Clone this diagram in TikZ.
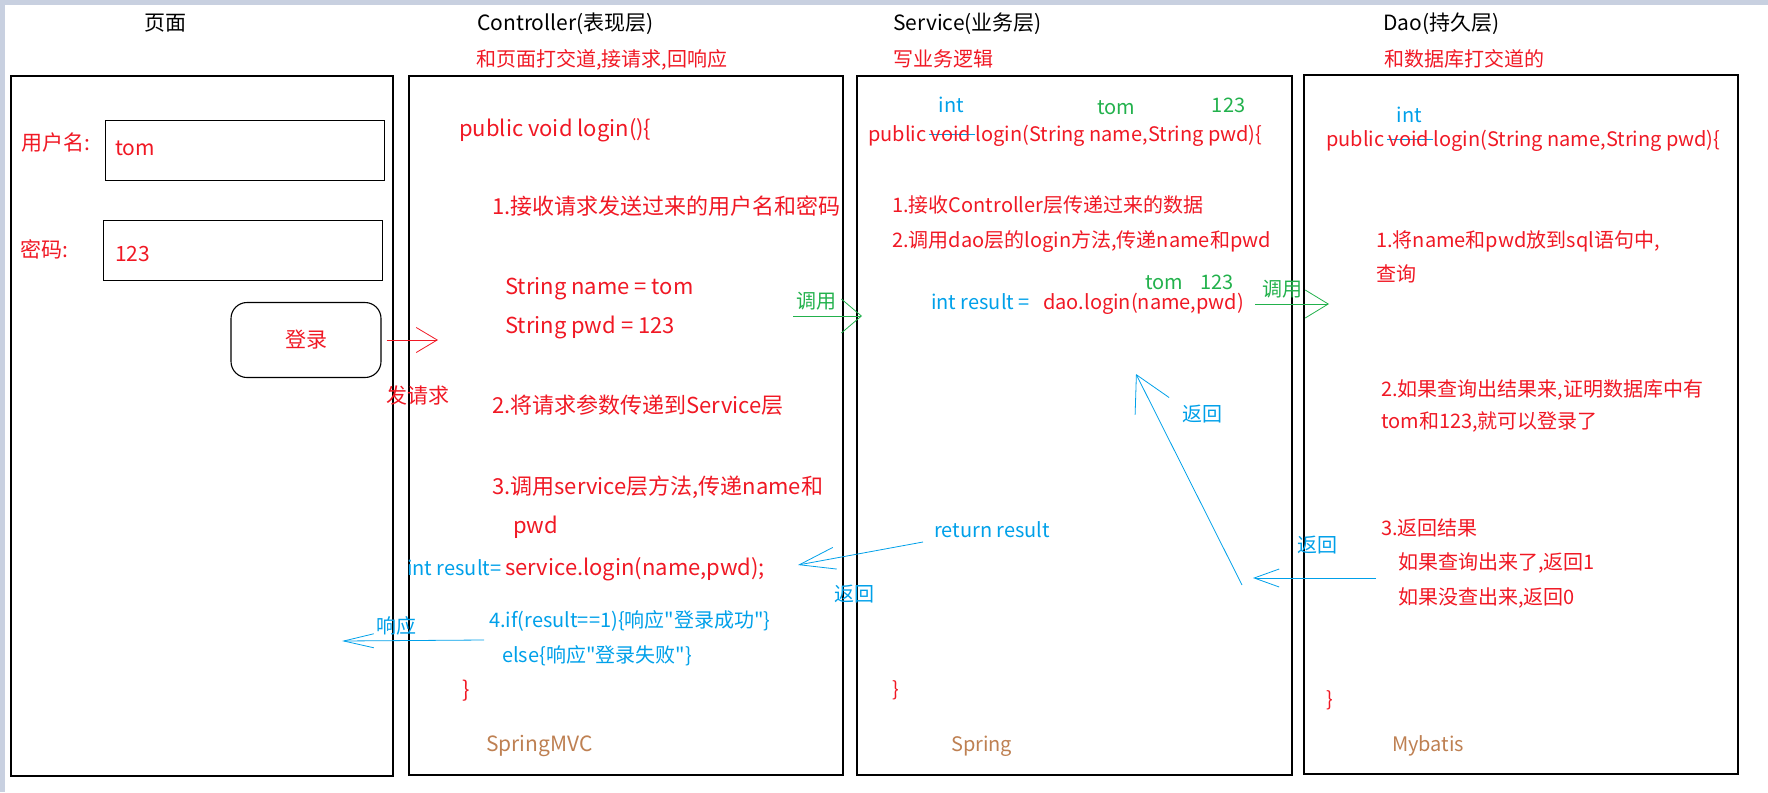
\documentclass[tikz,border=0pt]{standalone}
\usepackage{fontspec}
\setmainfont{Noto Sans CJK SC}[Ligatures=TeXOff]
\usetikzlibrary{arrows.meta}

\definecolor{codered}{RGB}{240,24,36}
\definecolor{codeblue}{RGB}{0,160,233}
\definecolor{codegreen}{RGB}{34,177,76}
\definecolor{codebrown}{RGB}{190,128,82}
\definecolor{framegray}{RGB}{200,208,224}

\newcommand\fs[1]{\fontsize{#1}{#1}\selectfont}
\newsavebox\strikebox
\newsavebox\tagbox
% word struck through in blue
\newcommand\struck[1]{\sbox\strikebox{#1}\rlap{\hspace{-2pt}\textcolor{codeblue}{\rule[0.33em]{\dimexpr\wd\strikebox+6pt\relax}{0.9pt}}}\usebox\strikebox}
% small value written above a word: raise, colour, value, word
\newcommand\tagover[4]{\sbox\tagbox{#4}\rlap{\makebox[\wd\tagbox]{\raisebox{#1}[0pt][0pt]{\textcolor{#2}{#3}}}}\usebox\tagbox}

\tikzset{
  panel/.style={draw, line width=1.3pt},
  field/.style={draw, line width=1.1pt, anchor=north west, inner sep=0pt},
  txt/.style={anchor=west, inner sep=0pt, text height=0.85em, text depth=0.15em, font=\fs{20}},
  title/.style={txt, font=\fs{21}},
  note/.style={txt, text=codered},
  bignote/.style={note, font=\fs{22}},
  ret/.style={txt, text=codeblue},
  call/.style={txt, text=codegreen},
  fw/.style={txt, text=codebrown},
  reqarrow/.style={draw=codered, line width=0.8pt, -{Straight Barb[length=21pt, width=25pt]}},
  callarrow/.style 2 args={draw=codegreen, line width=0.8pt, -{Straight Barb[length=#1, width=#2]}},
  retarrow/.style 2 args={draw=codeblue, line width=0.8pt, -{Straight Barb[length=#1, width=#2]}},
}

\begin{document}
\begin{tikzpicture}[x=1pt, y=-1pt]
  \useasboundingbox (0,0) rectangle (1768,792);
  % window edge
  \fill[framegray] (0,0) rectangle (1768,5);
  \fill[framegray] (0,0) rectangle (5,792);

  % panels
  \draw[panel] (11,76) rectangle (393,776);
  \draw[panel] (409,76) rectangle (843,775);
  \draw[panel] (857,76) rectangle (1292,775);
  \draw[panel] (1304,75) rectangle (1738,774);

  % titles
  \node[title] (pagetitle) at (144,27) {页面};
  \node[title] (ctrltitle) at (477,27) {Controller(表现层)};
  \node[title] (srvtitle) at (893,27) {Service(业务层)};
  \node[title] (daotitle) at (1383,27) {Dao(持久层)};
  \node[note] (ctrlsub) at (476,63) {和页面打交道,接请求,回响应};
  \node[note] (srvsub) at (893,63) {写业务逻辑};
  \node[note] (daosub) at (1384,63) {和数据库打交道的};

  % page
  \node[note, font=\fs{21}] (userlbl) at (21,147) {用户名:};
  \node[field, minimum width=279, minimum height=60] (userbox) at (105,120) {};
  \node[note, font=\fs{21}] (userval) at (115,152) {tom};
  \node[note, font=\fs{21}] (pwdlbl) at (20,254) {密码:};
  \node[field, minimum width=279, minimum height=60] (pwdbox) at (103,220) {};
  \node[note, font=\fs{21}] (pwdval) at (115,258) {123};
  \node[draw, line width=1.1pt, rounded corners=16pt, minimum width=150, minimum height=75,
        text=codered, font=\fs{21}] (loginbtn) at (306,340) {登录};
  \coordinate (reqtip) at (438,340);
  \draw[reqarrow] ([xshift=5pt]loginbtn.east) -- (reqtip);
  \node[note, font=\fs{21}] (reqlbl) at (386,400) {发请求};

  % controller
  \node[bignote] (csig) at (459,133) {public void login()\{};
  \node[bignote] (cstep1) at (492,211) {1.接收请求发送过来的用户名和密码};
  \node[bignote] (cname) at (505,291) {String name = tom};
  \node[bignote] (cpwd) at (505,330) {String pwd = 123};
  \node[bignote] (cstep2) at (492,410) {2.将请求参数传递到Service层};
  \node[bignote] (cstep3) at (492,491) {3.调用service层方法,传递name和};
  \node[bignote] (cstep3b) at (513,530) {pwd};
  \node[ret] (cresult) at (407,572) {int result=};
  \node[bignote] (ccall) at (505,572) {service.login(name,pwd);};
  \node[ret] (cstep4) at (489,624) {4.if(result==1)\{响应"登录成功"\}};
  \node[ret] (celse) at (502,659) {else\{响应"登录失败"\}};
  \node[bignote] (cend) at (462,694) {\}};
  \node[fw, font=\fs{21}] (cfw) at (486,748) {SpringMVC};
  \coordinate (respstart) at (484,640);
  \coordinate (resptip) at (342,641);
  \draw[retarrow={30pt}{14pt}] (respstart) -- (resptip);
  \node[ret] (resplbl) at (376,630) {响应};
  \coordinate (call1start) at (793,316);
  \coordinate (call1tip) at (862,316);
  \draw[callarrow={20pt}{34pt}] (call1start) -- (call1tip);
  \node[call] (call1lbl) at (796,305) {调用};

  % service
  \node[note] (ssig) at (868,138) {public \tagover{29pt}{codeblue}{int}{\struck{void}} login(String \tagover{27pt}{codegreen}{tom}{name},String \tagover{29pt}{codegreen}{123}{pwd})\{};
  \node[note] (sstep1) at (892,209) {1.接收Controller层传递过来的数据};
  \node[note] (sstep2) at (892,244) {2.调用dao层的login方法,传递name和pwd};
  \node[ret] (sresult) at (931,306) {int result =};
  \node[note] (scall) at (1043,306) {dao.login(\tagover{20pt}{codegreen}{tom}{name},\tagover{20pt}{codegreen}{123}{pwd})};
  \node[ret] (sreturn) at (934,534) {return result};
  \node[note] (send) at (892,693) {\}};
  \node[fw] (sfw) at (951,748) {Spring};
  \coordinate (call2start) at (1255,304);
  \coordinate (call2tip) at (1329,304);
  \draw[callarrow={23pt}{28pt}] (call2start) -- (call2tip);
  \node[call] (call2lbl) at (1262,293) {调用};
  \coordinate (backstart) at (1242,585);
  \coordinate (backtip) at (1136,374);
  \draw[retarrow={35pt}{38pt}] (backstart) -- (backtip);
  \node[ret] (backlbl) at (1182,418) {返回};
  \coordinate (rretstart) at (923,542);
  \coordinate (rrettip) at (798,565);
  \draw[retarrow={36pt}{22pt}] (rretstart) -- (rrettip);
  \node[ret] (rretlbl) at (834,598) {返回};

  % dao
  \node[note] (dsig) at (1326,143) {public \tagover{24pt}{codeblue}{int}{\struck{void}} login(String name,String pwd)\{};
  \node[note] (dstep1) at (1376,244) {1.将name和pwd放到sql语句中,};
  \node[note] (dstep1b) at (1376,278) {查询};
  \node[note] (dstep2) at (1381,393) {2.如果查询出结果来,证明数据库中有};
  \node[note] (dstep2b) at (1381,425) {tom和123,就可以登录了};
  \node[note] (dstep3) at (1381,532) {3.返回结果};
  \node[note] (dstep3a) at (1398,566) {如果查询出来了,返回1};
  \node[note] (dstep3b) at (1398,601) {如果没查出来,返回0};
  \node[note] (dend) at (1326,703) {\}};
  \node[fw] (dfw) at (1392,748) {Mybatis};
  \coordinate (dretstart) at (1376,578);
  \coordinate (drettip) at (1253,578);
  \draw[retarrow={25pt}{18pt}] (dretstart) -- (drettip);
  \node[ret] (dretlbl) at (1297,549) {返回};
\end{tikzpicture}
\end{document}
